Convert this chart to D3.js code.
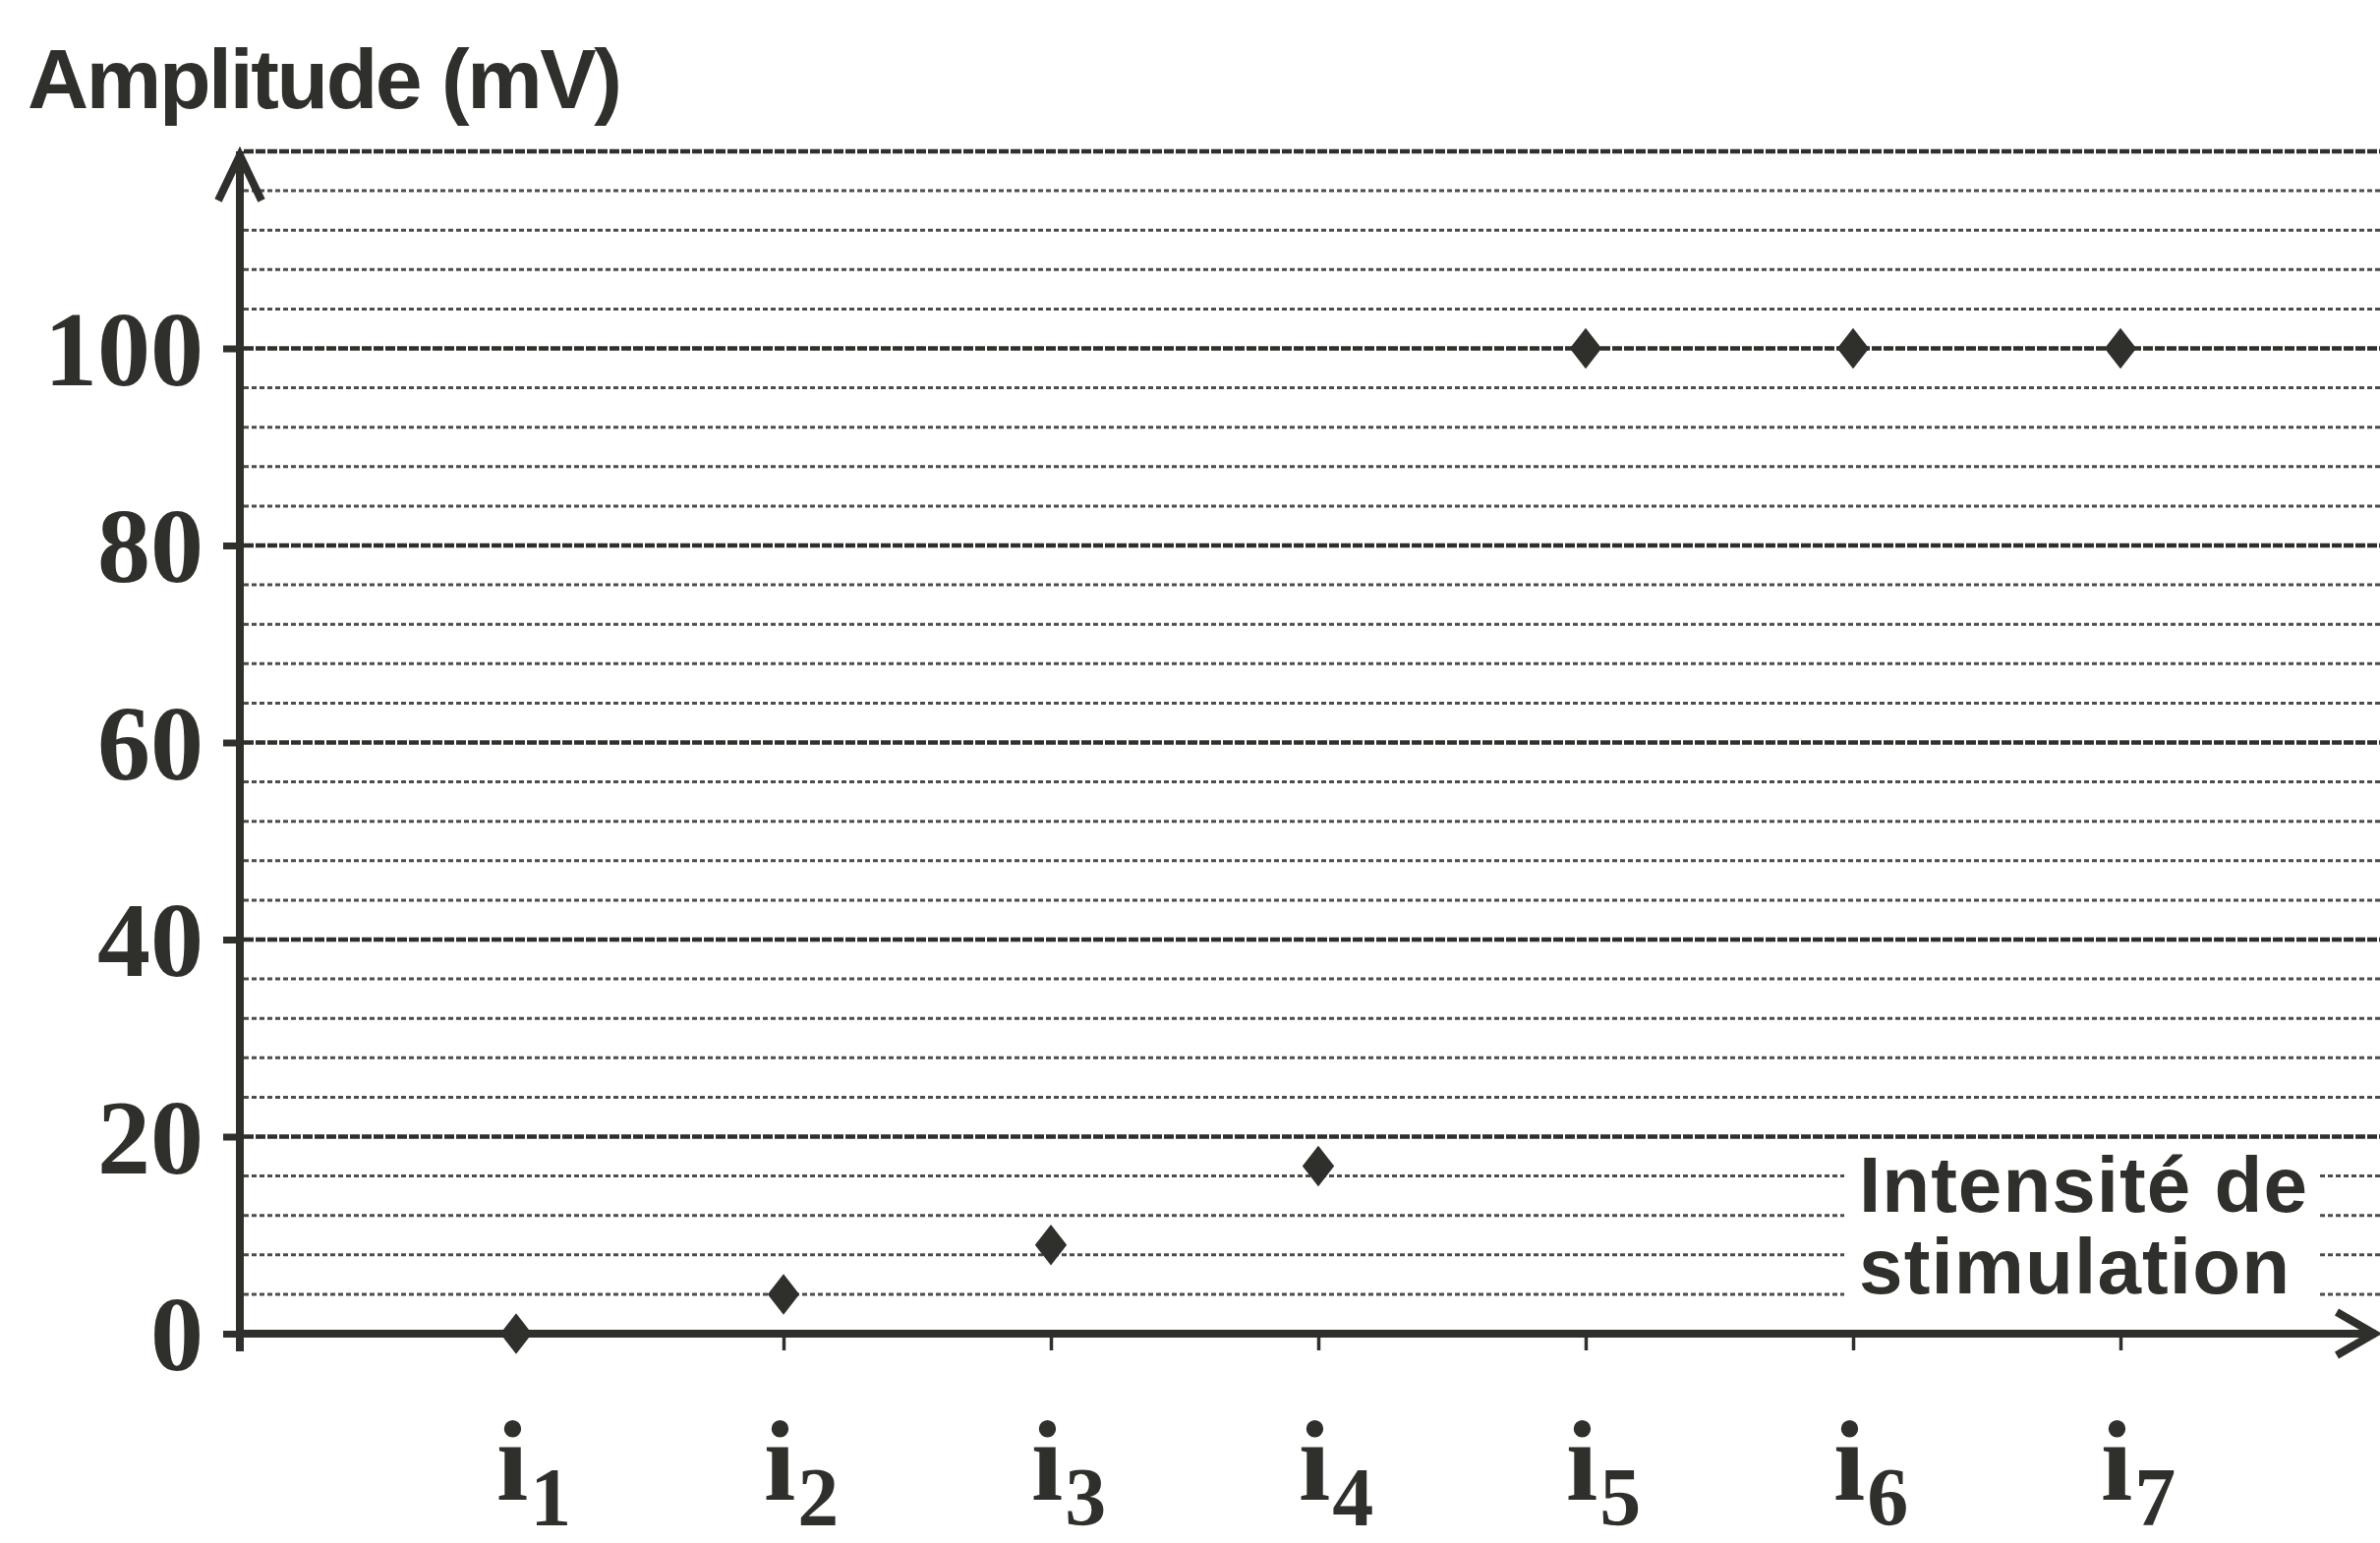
<!DOCTYPE html>
<html>
<head>
<meta charset="utf-8">
<script src="https://cdn.jsdelivr.net/npm/d3@7"></script>
<style>
  html, body { margin: 0; padding: 0; background: #fff; }
  svg { display: block; }
</style>
</head>
<body>
<div id="chart"></div>
<script>
(function () {
    // data
    const categories = [1, 2, 3, 4, 5, 6, 7];          // i1 .. i7
    const amplitudes = [0, 4, 9, 17, 100, 100, 100];   // mV
    const yTickValues = [0, 20, 40, 60, 80, 100];
    const gridStep = 4;                                 // minor grid every 4 mV
    const yMax = 120;

    const W = 2421, H = 1570;
    const ink = "#2f2f2b";

    const svg = d3.select("#chart").append("svg")
        .attr("width", W)
        .attr("height", H);

    // scales
    const x = d3.scaleLinear().domain([1, 7]).range([525, 2157]);
    const y = d3.scaleLinear().domain([0, yMax]).range([1357, 154]);
    const x0 = 244;          // position of the vertical axis
    const xEnd = W;          // grid runs to the right edge

    // grid lines (every 20 mV heavier)
    const gridVals = d3.range(gridStep, yMax + 1, gridStep);
    svg.append("g").attr("class", "grid")
        .selectAll("line")
        .data(gridVals)
        .enter().append("line")
        .attr("x1", x0 + 4)
        .attr("x2", xEnd)
        .attr("y1", d => y(d))
        .attr("y2", d => y(d))
        .attr("stroke", ink)
        .attr("stroke-width", d => (d % 20 === 0) ? 4.5 : 3)
        .attr("stroke-dasharray", d => (d % 20 === 0) ? "10,2" : "5,3")
        .attr("opacity", d => (d % 20 === 0) ? 1 : 0.85);

    // white box behind the x-axis title (breaks the grid lines)
    svg.append("rect")
        .attr("x", 1876)
        .attr("y", 1172)
        .attr("width", 483)
        .attr("height", 165)
        .attr("fill", "#fff");

    // y axis ticks + labels
    const yAxis = d3.axisLeft(y)
        .tickValues(yTickValues)
        .tickSize(17)
        .tickPadding(20)
        .tickFormat(d3.format("d"));

    const gy = svg.append("g")
        .attr("transform", `translate(${x0},0)`)
        .call(yAxis);
    gy.select(".domain").remove();
    gy.selectAll(".tick line").attr("stroke", ink).attr("stroke-width", 7);
    gy.selectAll(".tick text")
        .attr("fill", ink)
        .style("font-family", "'Liberation Serif', 'DejaVu Serif', serif")
        .style("font-weight", "bold")
        .style("font-size", "108px")
        .attr("dy", "0.34em");

    // x axis ticks (labels drawn below with subscripts)
    const xAxis = d3.axisBottom(x)
        .tickValues(categories)
        .tickSize(17)
        .tickFormat("");
    const gx = svg.append("g")
        .attr("transform", `translate(0,${y(0)})`)
        .call(xAxis);
    gx.select(".domain").remove();
    gx.selectAll(".tick line").attr("stroke", ink).attr("stroke-width", 3.5);

    // axis lines with open arrow heads
    svg.append("line")
        .attr("x1", x0).attr("x2", x0)
        .attr("y1", y(0) + 18).attr("y2", y(yMax))
        .attr("stroke", ink).attr("stroke-width", 8);
    svg.append("path")
        .attr("d", `M${x0 - 22},${y(yMax) + 50} L${x0},${y(yMax) + 4} L${x0 + 22},${y(yMax) + 50}`)
        .attr("fill", "none").attr("stroke", ink).attr("stroke-width", 8)
        .attr("stroke-linejoin", "miter");

    svg.append("line")
        .attr("x1", x0 - 4).attr("x2", W - 4)
        .attr("y1", y(0)).attr("y2", y(0))
        .attr("stroke", ink).attr("stroke-width", 8);
    svg.append("path")
        .attr("d", `M${W - 44},${y(0) - 22} L${W - 6},${y(0)} L${W - 44},${y(0) + 22}`)
        .attr("fill", "none").attr("stroke", ink).attr("stroke-width", 8);

    // x labels i1..i7
    const lab = svg.append("g")
        .selectAll("text")
        .data(categories)
        .enter().append("text")
        .attr("x", d => x(d) - 20)
        .attr("y", 1526)
        .attr("fill", ink)
        .style("font-family", "'Liberation Serif', 'DejaVu Serif', serif")
        .style("font-weight", "bold")
        .style("font-size", "116px");
    lab.append("tspan").text("i");
    lab.append("tspan")
        .attr("dy", 26)
        .attr("dx", 2)
        .style("font-size", "84px")
        .text(d => d);

    // data points (diamonds)
    svg.append("g")
        .selectAll("path")
        .data(amplitudes)
        .enter().append("path")
        .attr("d", d3.symbol(d3.symbolSquare, 860))
        .attr("transform", (d, i) => `translate(${x(categories[i])},${y(d)}) scale(0.78,1) rotate(45)`)
        .attr("fill", ink);

    // y axis title
    svg.append("text")
        .attr("x", 28)
        .attr("y", 110)
        .attr("fill", ink)
        .style("font-family", "'Liberation Sans', Arial, sans-serif")
        .style("font-weight", "bold")
        .style("font-size", "86px")
        .attr("textLength", 605)
        .text("Amplitude (mV)");

    // x axis title
    const xt = svg.append("text")
        .attr("fill", ink)
        .style("font-family", "'Liberation Sans', Arial, sans-serif")
        .style("font-weight", "bold")
        .style("font-size", "80px");
    xt.append("tspan").attr("x", 1891).attr("y", 1233).attr("textLength", 456).text("Intensité de");
    xt.append("tspan").attr("x", 1891).attr("y", 1316).attr("textLength", 438).text("stimulation");
})();
</script>
</body>
</html>
